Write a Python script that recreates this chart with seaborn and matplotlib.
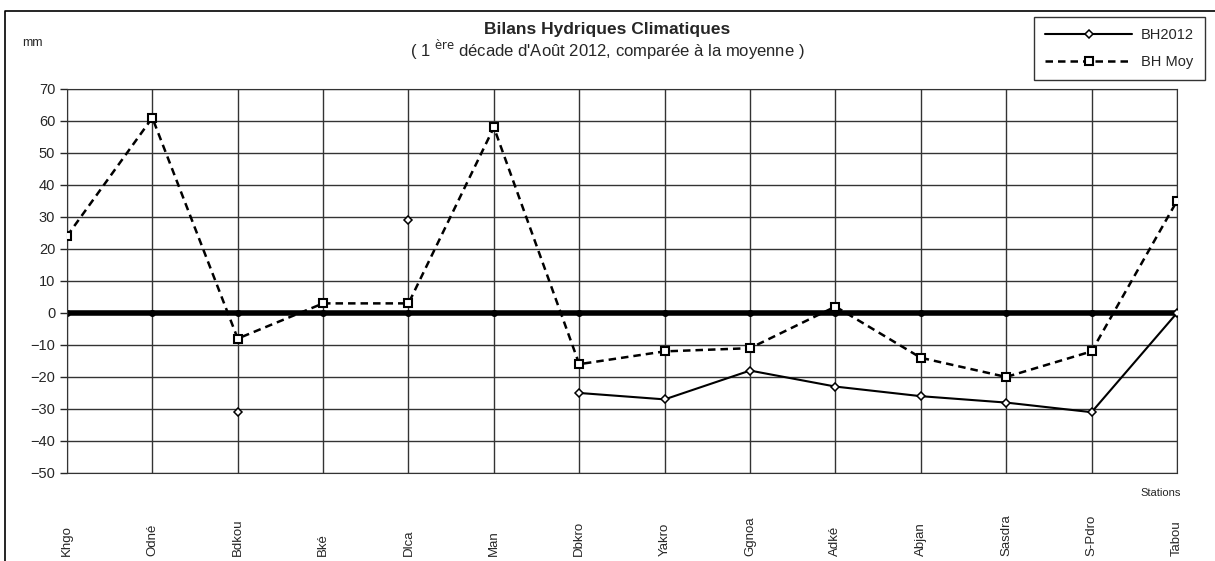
import numpy as np
import pandas as pd
import matplotlib
matplotlib.use('Agg')
import matplotlib.pyplot as plt
import seaborn as sns

sns.set_style('white')
plt.rcParams['font.family'] = ['Liberation Sans', 'DejaVu Sans']

# données
stations = ['Khgo', 'Odné', 'Bdkou', 'Bké', 'Dlca', 'Man', 'Dbkro', 'Yakro',
            'Ggnoa', 'Adké', 'Abjan', 'Sasdra', 'S-Pdro', 'Tabou']
bh2012 = [np.nan, np.nan, -31, np.nan, 29, np.nan, -25, -27, -18, -23, -26, -28, -31, 0]
bh_moy = [24, 61, -8, 3, 3, 58, -16, -12, -11, 2, -14, -20, -12, 35]
zero = [0] * len(stations)

df = pd.DataFrame({'pos': range(len(stations)), 'BH2012': bh2012,
                   'BH Moy': bh_moy, 'zero': zero})

fig = plt.figure(figsize=(12.15, 5.61), dpi=100)
ax = fig.add_axes([0.0551, 0.1569, 0.9136, 0.6845])

# ligne zéro épaisse
ax.plot(df['pos'], df['zero'], color='black', linewidth=4, marker='o',
        markersize=4, zorder=2)

# BH2012 : les valeurs manquantes coupent la ligne (seaborn les relierait)
ax.plot(df['pos'], df['BH2012'], color='black', linewidth=1.5,
        marker='D', markersize=4.5, markerfacecolor='white',
        markeredgecolor='black', markeredgewidth=1.1, label='BH2012', zorder=4)
sns.lineplot(data=df, x='pos', y='BH Moy', ax=ax, color='black', linewidth=1.8,
             linestyle=(0, (3, 2)), marker='s', markersize=6, markerfacecolor='white',
             markeredgecolor='black', markeredgewidth=1.5, label='BH Moy', zorder=3)

ax.set_xlim(0, len(stations) - 1)
ax.set_ylim(-50, 70)
ax.set_yticks(range(-50, 71, 10))
ax.set_xticks(range(len(stations)))
ax.set_xticklabels(stations, rotation=90, fontsize=9.5, va='bottom')
ax.tick_params(axis='x', length=0, pad=60)
ax.tick_params(axis='y', length=5, width=1, labelsize=10.5, direction='out', left=True)
ax.grid(True, color='#333333', linewidth=1)
for s in ax.spines.values():
    s.set_color('#333333')
ax.set_xlabel('')
ax.set_ylabel('')

leg = ax.legend(loc='upper right', bbox_to_anchor=(1.0252, 1.1875), frameon=True,
                fancybox=False, edgecolor='black', fontsize=10.5, handlelength=6,
                borderpad=0.75, labelspacing=0.9, borderaxespad=0, handletextpad=0.6)
leg.get_frame().set_linewidth(1)

fig.text(0.5, 0.948, 'Bilans Hydriques Climatiques', ha='center', va='center',
         fontsize=12.5, fontweight='bold')
fig.text(0.5, 0.912, "( 1 $^{\\mathrm{\u00e8re}}$ décade d'Août 2012, comparée à la moyenne )",
         ha='center', va='center', fontsize=12)
fig.text(0.018, 0.923, 'mm', fontsize=9, va='center')
fig.text(0.955, 0.122, 'Stations', fontsize=8, ha='center', va='center')

# cadre : seulement bords haut et gauche visibles
fig.add_artist(plt.Line2D([0.004, 0.004, 1.0], [0.0, 0.980, 0.980],
                          transform=fig.transFigure, color='black', linewidth=1.2))

fig.savefig('out.png', dpi=100)
